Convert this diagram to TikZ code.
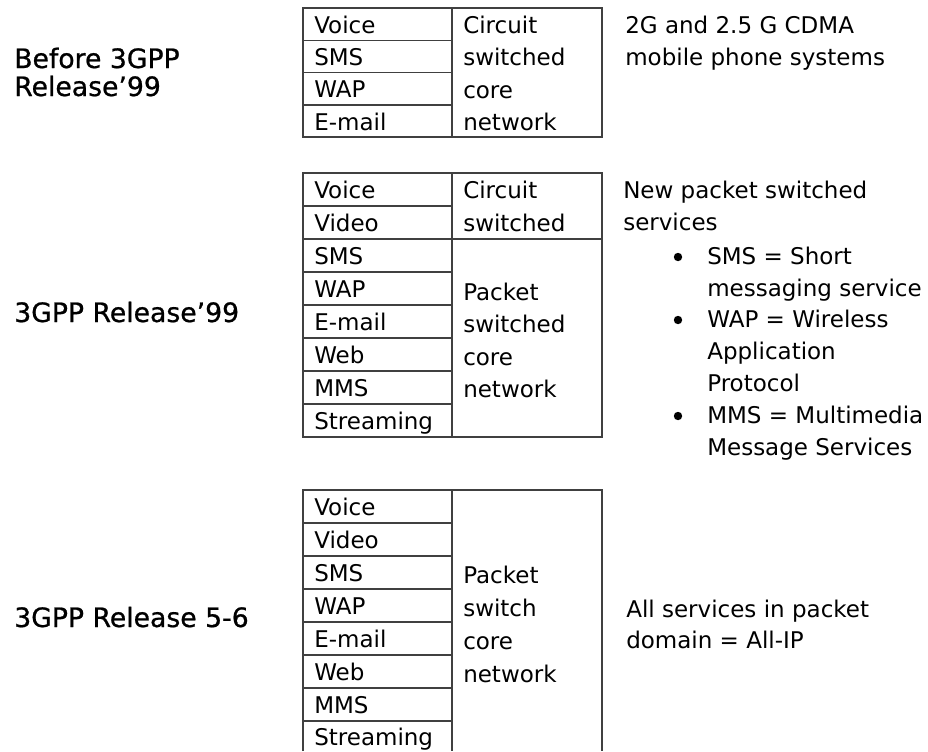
\documentclass[tikz,border=0pt]{standalone}
\usepackage{fontspec}
\setmainfont{DejaVu Sans}
\newfontfamily\lblfont[FakeBold=0.8]{DejaVu Sans}
\begin{document}
\begin{tikzpicture}[x=0.75pt,y=-0.75pt,
  grid/.style={draw=black!75, line width=1.1pt},
  cell/.style={anchor=base west, inner sep=0pt, font=\fontsize{17.25}{20}\selectfont},
  lbl/.style={anchor=base west, inner sep=0pt, font=\lblfont\fontsize{20}{24}\selectfont},
  dotb/.style={circle, fill=black, inner sep=0pt, minimum size=6.3pt}]
\useasboundingbox (0,0) rectangle (928,751);

% ---------- left labels
\node[lbl] (l1a) at (14,68) {Before 3GPP};
\node[lbl] (l1b) at (14,96) {Release’99};
\node[lbl] (l2) at (14,322) {3GPP Release’99};
\node[lbl] (l3) at (14,627) {3GPP Release 5-6};

% ---------- box 1
\draw[grid] (303,8) rectangle (602,137);
\draw[grid] (452,8) -- (452,137);
\foreach \y in {40.3,72.5,105} \draw[grid] (303,\y) -- (452,\y);
\node[cell] (a1) at (314,33) {Voice};
\node[cell] (a2) at (314,65.3) {SMS};
\node[cell] (a3) at (314,97.5) {WAP};
\node[cell] (a4) at (314,130) {E-mail};
\node[cell] (ar1) at (463,33) {Circuit};
\node[cell] (ar2) at (463,65) {switched};
\node[cell] (ar3) at (463,98) {core};
\node[cell] (ar4) at (463,130) {network};
\node[cell] (at1) at (625,33) {2G and 2.5 G CDMA};
\node[cell] (at2) at (625,65) {mobile phone systems};

% ---------- box 2
\draw[grid] (303,173) rectangle (602,437);
\draw[grid] (452,173) -- (452,437);
\draw[grid] (303,239) -- (602,239);
\foreach \y in {206,272,305,338,371,404} \draw[grid] (303,\y) -- (452,\y);
\node[cell] (b1) at (314,198) {Voice};
\node[cell] (b2) at (314,231) {Video};
\node[cell] (b3) at (314,264) {SMS};
\node[cell] (b4) at (314,297) {WAP};
\node[cell] (b5) at (314,330) {E-mail};
\node[cell] (b6) at (314,363) {Web};
\node[cell] (b7) at (314,396) {MMS};
\node[cell] (b8) at (314,429) {Streaming};
\node[cell] (br1) at (463,198) {Circuit};
\node[cell] (br2) at (463,231) {switched};
\node[cell] (br3) at (463,300) {Packet};
\node[cell] (br4) at (463,332) {switched};
\node[cell] (br5) at (463,365) {core};
\node[cell] (br6) at (463,397) {network};
\node[cell] (bt1) at (623,198) {New packet switched};
\node[cell] (bt2) at (623,230) {services};
\node[dotb] (d1) at (678,257) {};
\node[cell] (bt3) at (707,264) {SMS = Short};
\node[cell] (bt4) at (707,296) {messaging service};
\node[dotb] (d2) at (678,320) {};
\node[cell] (bt5) at (707,327) {WAP = Wireless};
\node[cell] (bt6) at (707,359) {Application};
\node[cell] (bt7) at (707,391) {Protocol};
\node[dotb] (d3) at (678,416) {};
\node[cell] (bt8) at (707,423) {MMS = Multimedia};
\node[cell] (bt9) at (707,455) {Message Services};

% ---------- box 3 (cut off at the bottom)
\draw[grid] (303,751) -- (303,490) -- (602,490) -- (602,751);
\draw[grid] (452,490) -- (452,751);
\foreach \y in {523,556,589,622,655,688,721} \draw[grid] (303,\y) -- (452,\y);
\node[cell] (c1) at (314,515) {Voice};
\node[cell] (c2) at (314,548) {Video};
\node[cell] (c3) at (314,581) {SMS};
\node[cell] (c4) at (314,614) {WAP};
\node[cell] (c5) at (314,647) {E-mail};
\node[cell] (c6) at (314,680) {Web};
\node[cell] (c7) at (314,713) {MMS};
\node[cell] (c8) at (314,745) {Streaming};
\node[cell] (cr1) at (463,583) {Packet};
\node[cell] (cr2) at (463,616) {switch};
\node[cell] (cr3) at (463,649) {core};
\node[cell] (cr4) at (463,682) {network};
\node[cell] (ct1) at (626,617) {All services in packet};
\node[cell] (ct2) at (626,648) {domain = All-IP};
\end{tikzpicture}
\end{document}
